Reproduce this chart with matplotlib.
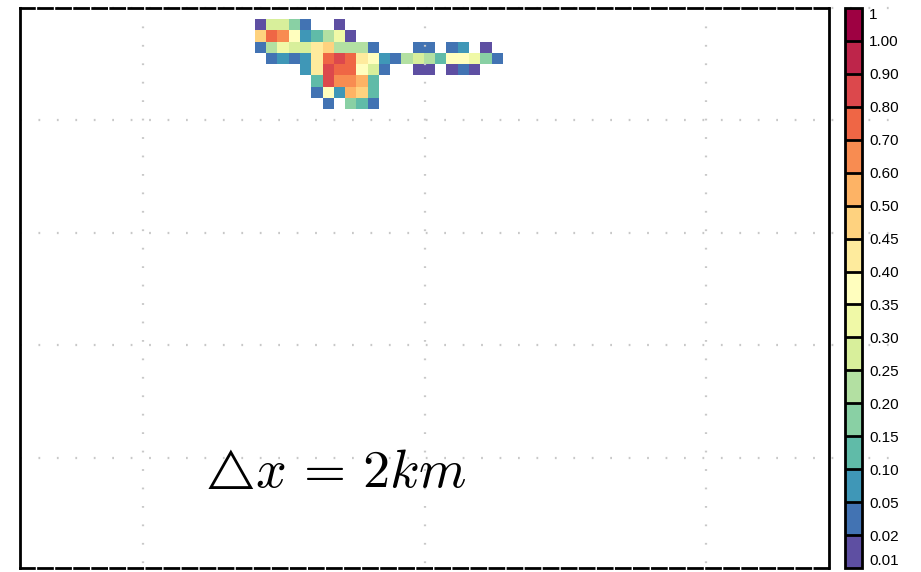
import numpy as np
import matplotlib
matplotlib.use("Agg")
import matplotlib.pyplot as plt
from matplotlib import colors as mcolors
from matplotlib import colorbar as mcolorbar

plt.rcParams['font.family'] = ['Liberation Sans', 'DejaVu Sans']
plt.rcParams['mathtext.fontset'] = 'cm'

# colour levels of the scale (bottom -> top) and their labels
levels = [0.01, 0.02, 0.05, 0.10, 0.15, 0.20, 0.25, 0.30, 0.35, 0.40,
          0.45, 0.50, 0.60, 0.70, 0.80, 0.90, 1.00, 1.05]
level_labels = ['0.01', '0.02', '0.05', '0.10', '0.15', '0.20', '0.25', '0.30',
                '0.35', '0.40', '0.45', '0.50', '0.60', '0.70', '0.80', '0.90',
                '1.00', '1']

n = np.nan
# field values, rows from north to south, 2 km cells
field = np.array([
    [.015, .27, .27, .17, .03, n, n, .015, n, n, n, n, n, n, n, n, n, n, n, n, n, n],
    [.47, .75, .65, .37, .07, .12, .22, .32, .015, n, n, n, n, n, n, n, n, n, n, n, n, n],
    [.03, .22, .32, .27, .27, .42, .47, .22, .22, .22, .03, n, n, n, .03, .03, n, .03, .07, n, .015, n],
    [n, .03, .07, .03, .07, .42, .75, .85, .75, .42, .37, .07, .03, .22, .27, .22, .12, .37, .37, .32, .17, .03],
    [n, n, n, n, .07, .42, .85, .75, .75, .37, .27, .03, n, n, .015, .015, n, .015, .03, .015, n, n],
    [n, n, n, n, n, .12, .85, .65, .65, .55, .12, n, n, n, n, n, n, n, n, n, n, n],
    [n, n, n, n, n, .03, .37, .07, .55, .47, .12, n, n, n, n, n, n, n, n, n, n, n],
    [n, n, n, n, n, n, .03, n, .17, .12, .03, n, n, n, n, n, n, n, n, n, n, n],
])
col0, row0 = 20.85, 0.98          # position of the patch in the domain (cells)
domain_w, domain_h = 71.8, 49.7
meridians = [10.91, 35.91, 60.91]
parallels = [9.94, 19.94, 29.94, 39.94]

cmap = mcolors.ListedColormap(plt.get_cmap('Spectral_r')(np.linspace(0, 1, len(levels) - 1)))
norm = mcolors.BoundaryNorm(levels, cmap.N)

fig = plt.figure(figsize=(9.21, 5.72), dpi=100)
ax = fig.add_axes([20 / 921, 4 / 572, 809 / 921, 560 / 572])

ny, nx = field.shape
xe = col0 + np.arange(nx + 1)
ye = row0 + np.arange(ny + 1)
ax.pcolormesh(xe, ye, np.ma.masked_invalid(field), cmap=cmap, norm=norm, zorder=1)

ax.set_xlim(0, domain_w)
ax.set_ylim(domain_h, 0)
ax.set_xticks([])
ax.set_yticks([])

grid_kw = dict(color='#c8c8c8', lw=1.6, linestyle=(0, (0.8, 7.5)), zorder=2)
for xm in meridians:
    ax.plot([xm, xm], [0, domain_h], **grid_kw)
for yp in [0.0] + parallels:
    ax.plot([0, domain_w * 1.076], [yp, yp], clip_on=False, **grid_kw)

for s in ['left', 'right']:
    ax.spines[s].set_linewidth(2)
for s in ['top', 'bottom']:
    ax.spines[s].set_linewidth(2)
    ax.spines[s].set_linestyle((0, (5, 1.5)))

# resolution label: triangle drawn a bit smaller than the rest, as in the original
ax.text((199 - 20) / 809, (568 - 484) / 560, r'$\triangle$', transform=ax.transAxes,
        fontsize=30, ha='left', va='baseline', zorder=3)
ax.text((255 - 20) / 809, (568 - 487) / 560, r'$x\,=\,2km$', transform=ax.transAxes,
        fontsize=39, ha='left', va='baseline', zorder=3)

cax = fig.add_axes([845 / 921, 4 / 572, 17 / 921, 560 / 572])
cb = mcolorbar.ColorbarBase(cax, cmap=cmap, norm=norm, boundaries=levels,
                            ticks=levels, spacing='uniform', drawedges=True)
cb.set_ticklabels(level_labels)
cb.outline.set_linewidth(2)
cb.dividers.set_linewidth(2)
cb.dividers.set_color('black')
cax.tick_params(length=0, labelsize=11, pad=5)
tl = cax.get_yticklabels()
tl[0].set_va('bottom')
tl[-1].set_va('top')

fig.savefig('out.png', dpi=100)
